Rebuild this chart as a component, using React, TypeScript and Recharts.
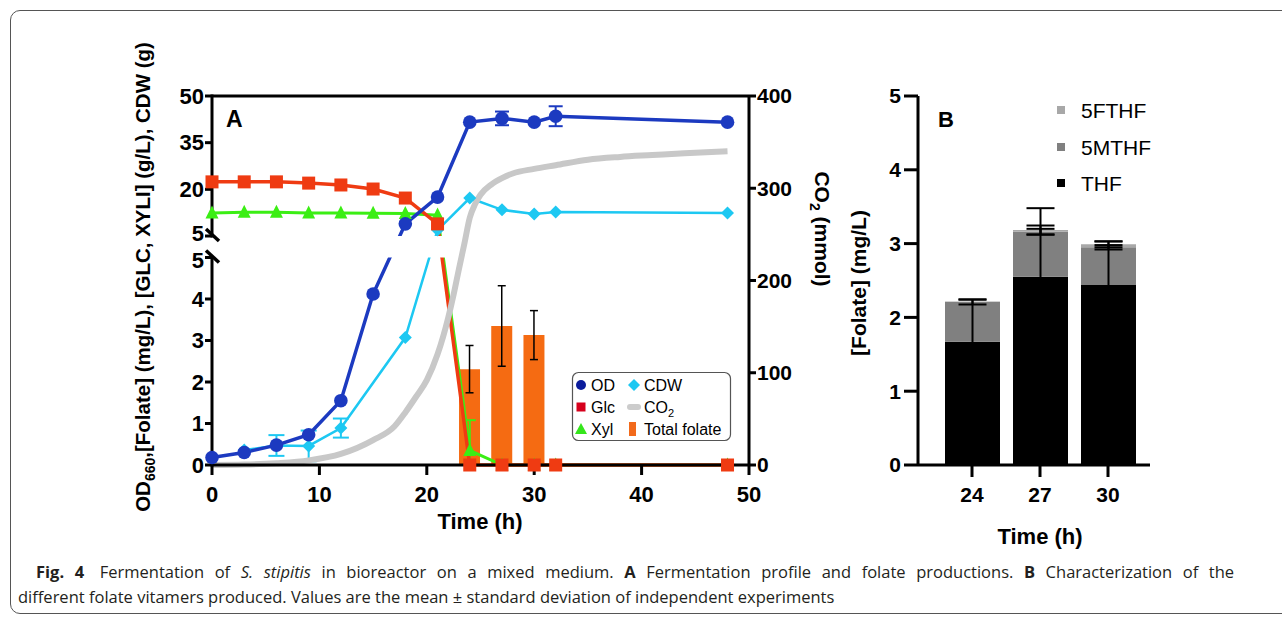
import React from 'react';
import {
  ComposedChart,
  BarChart,
  Bar,
  Line,
  XAxis,
  YAxis,
  ErrorBar,
  ReferenceLine,
  ReferenceArea,
} from 'recharts';

// ---------------- Panel A data ----------------
const times = [0, 3, 6, 9, 12, 15, 18, 21, 24, 27, 30, 32, 48];
const odValues = [0.18, 0.3, 0.48, 0.73, 1.55, 4.12, 8.9, 17.5, 41.6, 42.8, 41.6, 43.5, 41.6];
const odErrors = [null, null, null, null, null, null, null, null, null, 2.2, null, 3.2, null];
const glcValues = [22.4, 22.4, 22.4, 22.0, 21.4, 20.1, 17.2, 8.9, 0, 0, 0, 0, 0];
const xylValues = [12.4, 12.6, 12.6, 12.4, 12.4, 12.3, 12.2, 11.7, 0.35, 0, 0, 0, 0];
const xylErrors: (number[] | null)[] = [null, null, null, null, null, null, null, null, [0.35, 0.73], null, null, null, null];
const cdwValues = [null, 0.36, 0.47, 0.46, 0.89, null, 3.07, 6.9, 17.2, 13.4, 12.1, 12.7, 12.4];
const cdwErrors = [null, null, 0.25, 0.37, 0.23, null, null, null, null, null, null, null, null];
const folateValues = [null, null, null, null, null, null, null, null, 2.31, 3.35, 3.13, null, null];
const folateErrors = [null, null, null, null, null, null, null, null, 0.57, 0.97, 0.59, null, null];

const co2Times = [0, 3, 6, 9, 12, 15, 17, 18, 19, 20, 21, 22, 22.5, 23, 23.5, 24, 24.5, 25, 26, 27, 28, 30, 32, 35, 38, 41, 44, 48];
const co2Values = [0, 0.5, 2, 5, 12, 27, 42, 57, 74, 92, 120, 160, 185, 213, 240, 268, 283, 293, 304, 311, 316, 321, 325, 331, 334, 336, 338, 340];

const xTicksA = [0, 10, 20, 30, 40, 50];
const BREAK_LOW = 5;
const BREAK_HIGH = 5.000001;
const leftTicksA = [0, 1, 2, 3, 4, BREAK_LOW, BREAK_HIGH, 20, 35, 50];
const rightTicksA = [0, 100, 200, 300, 400];

// ---------------- Panel B data ----------------
const bTimes = ['24', '27', '30'];
const thfValues = [1.67, 2.55, 2.44];
const mthfValues = [0.54, 0.61, 0.51];
const fthfValues = [0.005, 0.025, 0.04];
const thfErrors = [0.57, 0.93, 0.59];
const mthfErrors = [0.035, 0.04, 0.03];
const fthfErrors = [0, 0.06, 0.04];
const bTicks = [0, 1, 2, 3, 4, 5];

// ---------------- styling ----------------
const FONT = "'Liberation Sans', Arial, Helvetica, sans-serif";
const C_OD = '#1c3ac0';
const C_GLC = '#ef3b12';
const C_XYL = '#3bee14';
const C_CDW = '#1dc8f2';
const C_CO2 = '#c8c8c8';
const C_FOL = '#f56b12';

// fraction of the left-axis height used by the lower (0-5) segment and where the upper one starts
const LOW_FRAC = 207.5 / 369;
const HIGH_FRAC = 229 / 369;

function makeBrokenScale(domain: number[] = [0, 50], range: number[] = [1, 0]): any {
  let d = domain.slice();
  let r = range.slice();
  const s: any = (v: any) => {
    const n = Number(v);
    const d0 = d[0];
    const d1 = d[d.length - 1];
    let f: number;
    if (n <= BREAK_LOW) f = ((n - d0) / (BREAK_LOW - d0)) * LOW_FRAC;
    else f = HIGH_FRAC + ((n - BREAK_HIGH) / (d1 - BREAK_HIGH)) * (1 - HIGH_FRAC);
    return r[0] + f * (r[r.length - 1] - r[0]);
  };
  s.domain = (x?: any) => {
    if (x === undefined) return d.slice();
    d = [Number(x[0]), Number(x[x.length - 1])];
    return s;
  };
  s.range = (x?: any) => {
    if (x === undefined) return r.slice();
    r = [Number(x[0]), Number(x[x.length - 1])];
    return s;
  };
  s.copy = () => makeBrokenScale(d, r);
  s.ticks = () => leftTicksA.slice();
  s.tickFormat = () => (v: any) => String(v);
  s.clamp = () => s;
  s.nice = () => s;
  s.invert = (px: number) => {
    const f = (px - r[0]) / (r[r.length - 1] - r[0]);
    if (f <= LOW_FRAC) return d[0] + (f / LOW_FRAC) * (BREAK_LOW - d[0]);
    return BREAK_HIGH + ((f - HIGH_FRAC) / (1 - HIGH_FRAC)) * (d[d.length - 1] - BREAK_HIGH);
  };
  return s;
}
const brokenScale = makeBrokenScale();

const rowsA = times.map((t, i) => ({
  t,
  od: odValues[i],
  odErr: odErrors[i],
  glc: glcValues[i],
  xyl: xylValues[i],
  xylErr: xylErrors[i],
  cdw: cdwValues[i],
  cdwErr: cdwErrors[i],
  folate: folateValues[i],
  folateErr: folateErrors[i],
}));
const co2Rows = co2Times.map((t, i) => ({ t, co2: co2Values[i] }));

const rowsB = bTimes.map((time, i) => {
  const top = thfValues[i] + mthfValues[i] + fthfValues[i];
  const thfTop = thfValues[i];
  const mthfTop = thfValues[i] + mthfValues[i];
  const rel = (segTop: number, e: number) => (e ? [top - (segTop - e), segTop + e - top] : null);
  return {
    time,
    thf: thfValues[i],
    mthf: mthfValues[i],
    fthf: fthfValues[i],
    eThf: rel(thfTop, thfErrors[i]),
    eMthf: rel(mthfTop, mthfErrors[i]),
    eFthf: rel(top, fthfErrors[i]),
  };
});

const tickFont = { fill: '#000', fontSize: 22, fontWeight: 700, fontFamily: FONT };
const axisStroke = { stroke: '#000', strokeWidth: 3 };

const LeftTick = (props: any) => {
  const { x, y, payload } = props;
  const v = payload.value;
  const isBreak = v === BREAK_LOW || v === BREAK_HIGH;
  const label = v === BREAK_HIGH ? '5' : String(v);
  const ax = x + 8;
  const shift = v === BREAK_HIGH ? -2.5 : v === BREAK_LOW ? 2.5 : 0;
  return (
    <g>
      <text x={x} y={y + shift} dy="0.355em" textAnchor="end" {...tickFont}>
        {label}
      </text>
      {isBreak && (
        <line x1={ax - 6} y1={y - 7} x2={ax + 7} y2={y + 5} stroke="#000" strokeWidth={3.5} />
      )}
    </g>
  );
};

const circleDot = (color: string, r: number) => (p: any) => {
  if (p.cy == null || p.value == null) return <g key={`c${p.index}`} />;
  return <circle key={`c${p.index}`} cx={p.cx} cy={p.cy} r={r} fill={color} />;
};
const squareDot = (color: string, s: number) => (p: any) => {
  if (p.cy == null || p.value == null) return <g key={`s${p.index}`} />;
  return <rect key={`s${p.index}`} x={p.cx - s / 2} y={p.cy - s / 2} width={s} height={s} fill={color} />;
};
const triDot = (color: string, s: number) => (p: any) => {
  if (p.cy == null || p.value == null) return <g key={`t${p.index}`} />;
  const pts = `${p.cx},${p.cy - s * 0.58} ${p.cx - s / 2},${p.cy + s * 0.42} ${p.cx + s / 2},${p.cy + s * 0.42}`;
  return <polygon key={`t${p.index}`} points={pts} fill={color} />;
};
const diamondDot = (color: string, h: number) => (p: any) => {
  if (p.cy == null || p.value == null) return <g key={`d${p.index}`} />;
  const pts = `${p.cx},${p.cy - h} ${p.cx + h},${p.cy} ${p.cx},${p.cy + h} ${p.cx - h},${p.cy}`;
  return <polygon key={`d${p.index}`} points={pts} fill={color} />;
};

function PanelA() {
  return (
    <ComposedChart
      width={800}
      height={560}
      data={rowsA}
      margin={{ top: 96, right: 11, bottom: 65, left: 152 }}
    >
      <XAxis
        dataKey="t"
        type="number"
        domain={[0, 50]}
        ticks={xTicksA}
        interval={0}
        height={30}
        tickSize={10}
        tickMargin={11}
        axisLine={axisStroke}
        tickLine={axisStroke}
        tick={tickFont}
      />
      <XAxis xAxisId="co2" dataKey="t" type="number" domain={[0, 50]} hide />
      <YAxis
        yAxisId="L"
        type="number"
        scale={brokenScale}
        domain={[0, 50]}
        ticks={leftTicksA}
        interval={0}
        width={60}
        axisLine={false}
        tickSize={7}
        tickMargin={1}
        tickLine={axisStroke}
        tick={(p: any) => <LeftTick {...p} />}
      />
      <YAxis
        yAxisId="R"
        orientation="right"
        type="number"
        domain={[0, 400]}
        ticks={rightTicksA}
        interval={0}
        width={40}
        axisLine={axisStroke}
        tickSize={7}
        tickMargin={1}
        tickLine={axisStroke}
        tick={{ ...tickFont, fontSize: 21 }}
      />
      <Bar yAxisId="L" dataKey="folate" fill={C_FOL} barSize={21} isAnimationActive={false}>
        <ErrorBar dataKey="folateErr" direction="y" width={4} strokeWidth={1.5} stroke="#000" />
      </Bar>
      <Line
        yAxisId="L"
        dataKey="cdw"
        type="linear"
        stroke={C_CDW}
        strokeWidth={2.5}
        connectNulls
        dot={diamondDot(C_CDW, 6.5)}
        isAnimationActive={false}
      >
        <ErrorBar dataKey="cdwErr" direction="y" width={8} strokeWidth={2} stroke={C_CDW} />
      </Line>
      <Line
        yAxisId="L"
        dataKey="xyl"
        type="linear"
        stroke={C_XYL}
        strokeWidth={3}
        dot={triDot(C_XYL, 13)}
        isAnimationActive={false}
      >
        <ErrorBar dataKey="xylErr" direction="y" width={6} strokeWidth={2} stroke={C_XYL} />
      </Line>
      <Line
        yAxisId="L"
        dataKey="glc"
        type="linear"
        stroke={C_GLC}
        strokeWidth={3.5}
        dot={squareDot(C_GLC, 13)}
        isAnimationActive={false}
      />
      <Line
        yAxisId="L"
        dataKey="od"
        type="linear"
        stroke={C_OD}
        strokeWidth={3.5}
        dot={circleDot(C_OD, 6.8)}
        isAnimationActive={false}
      >
        <ErrorBar dataKey="odErr" direction="y" width={7} strokeWidth={2} stroke={C_OD} />
      </Line>
      <ReferenceArea
        yAxisId="L"
        x1={1}
        x2={49}
        y1={BREAK_LOW}
        y2={BREAK_HIGH}
        fill="#ffffff"
        fillOpacity={1}
        stroke="none"
        ifOverflow="visible"
        {...({ zIndex: 450 } as any)}
      />
      <Line
        yAxisId="R"
        xAxisId="co2"
        data={co2Rows}
        dataKey="co2"
        type="monotone"
        stroke={C_CO2}
        strokeWidth={6}
        dot={false}
        activeDot={false}
        isAnimationActive={false}
        {...({ zIndex: 460 } as any)}
      />
      <ReferenceLine
        yAxisId="L"
        segment={[{ x: 0, y: 0 }, { x: 0, y: BREAK_LOW }]}
        stroke="#000"
        strokeWidth={3}
        strokeLinecap="square"
        {...({ zIndex: 470 } as any)}
      />
      <ReferenceLine
        yAxisId="L"
        segment={[{ x: 0, y: BREAK_HIGH }, { x: 0, y: 50 }]}
        stroke="#000"
        strokeWidth={3}
        strokeLinecap="square"
        {...({ zIndex: 470 } as any)}
      />
      <ReferenceLine yAxisId="L" y={50} stroke="#000" strokeWidth={3} {...({ zIndex: 470 } as any)} />
    </ComposedChart>
  );
}

function PanelB() {
  return (
    <BarChart width={330} height={560} data={rowsB} margin={{ top: 96, right: 20, bottom: 65, left: 18 }}>
      <XAxis
        dataKey="time"
        type="category"
        padding={{ left: 20, right: 8 }}
        height={30}
        tickSize={12}
        tickMargin={10}
        interval={0}
        axisLine={axisStroke}
        tickLine={axisStroke}
        tick={{ ...tickFont, fontSize: 21 }}
      />
      <YAxis
        type="number"
        domain={[0, 5]}
        ticks={bTicks}
        interval={0}
        width={60}
        tickSize={14}
        tickMargin={3}
        axisLine={axisStroke}
        tickLine={axisStroke}
        tick={{ ...tickFont, fontSize: 21 }}
      />
      <Bar dataKey="thf" stackId="s" fill="#000000" barSize={55} isAnimationActive={false} />
      <Bar dataKey="mthf" stackId="s" fill="#808080" barSize={55} isAnimationActive={false} />
      <Bar dataKey="fthf" stackId="s" fill="#a8a8a8" barSize={55} isAnimationActive={false}>
        <ErrorBar dataKey="eThf" direction="y" width={14} strokeWidth={2} stroke="#000" />
        <ErrorBar dataKey="eMthf" direction="y" width={14} strokeWidth={2} stroke="#000" />
        <ErrorBar dataKey="eFthf" direction="y" width={14} strokeWidth={2} stroke="#000" />
      </Bar>
    </BarChart>
  );
}

function Overlay() {
  const bold = { fontFamily: FONT, fontWeight: 700, fill: '#000' };
  const cap = { fontFamily: "'Open Sans', 'DejaVu Sans', sans-serif", fontSize: 16.5, fill: '#231f20' };
  return (
    <svg
      width={1282}
      height={618}
      style={{ position: 'absolute', left: 0, top: 0, pointerEvents: 'none' }}
    >
      {/* panel letters */}
      <text x={226} y={127} fontSize={23} {...bold}>A</text>
      <text x={938} y={127} fontSize={22} {...bold}>B</text>

      {/* axis titles A */}
      <text transform="translate(150,277) rotate(-90)" textAnchor="middle" fontSize={20.5} {...bold}>
        OD<tspan fontSize={14} dy={5}>660</tspan>
        <tspan dy={-5}>,[Folate] (mg/L), [GLC, XYLI] (g/L), CDW (g)</tspan>
      </text>
      <text transform="translate(815,229) rotate(90)" textAnchor="middle" fontSize={21} {...bold}>
        CO<tspan fontSize={14} dy={5}>2</tspan>
        <tspan dy={-5}> (mmol)</tspan>
      </text>
      <text x={480} y={529} textAnchor="middle" fontSize={22} {...bold}>Time (h)</text>

      {/* axis titles B */}
      <text transform="translate(866,283) rotate(-90)" textAnchor="middle" fontSize={21} {...bold}>
        [Folate] (mg/L)
      </text>
      <text x={1040} y={544} textAnchor="middle" fontSize={22} {...bold}>Time (h)</text>

      {/* legend A */}
      <g fontFamily={FONT} fontSize={16} fill="#000">
        <rect x={572.5} y={372.5} width={158} height={68} rx={6} fill="#fff" stroke="#555" strokeWidth={1.2} />
        <circle cx={581} cy={385} r={5} fill="#0b1c9c" />
        <text x={591} y={391}>OD</text>
        <polygon points="634,379 640,385 634,391 628,385" fill={C_CDW} />
        <text x={644} y={391}>CDW</text>
        <rect x={576.5} y={402.5} width={9} height={9} fill="#d6001c" />
        <text x={591} y={413}>Glc</text>
        <line x1={630} y1={407} x2={638} y2={407} stroke="#cccccc" strokeWidth={6} strokeLinecap="round" />
        <text x={644} y={413}>
          CO<tspan fontSize={11} dy={4}>2</tspan>
        </text>
        <polygon points="581,423 587,434 575,434" fill="#35e61b" />
        <text x={591} y={435}>Xyl</text>
        <rect x={629} y={422} width={7} height={14} fill="#f26a1b" />
        <text x={644} y={435}>Total folate</text>
      </g>

      {/* legend B */}
      <g fontFamily={FONT} fontSize={21} fill="#000">
        <rect x={1057} y={106} width={8} height={8} fill="#a8a8a8" />
        <text x={1081} y={118}>5FTHF</text>
        <rect x={1057} y={143} width={8} height={8} fill="#808080" />
        <text x={1081} y={155}>5MTHF</text>
        <rect x={1057} y={179} width={8} height={8} fill="#000" />
        <text x={1081} y={191}>THF</text>
      </g>

      {/* caption */}
      <text x={36} y={578} wordSpacing={6.3} {...cap}>
        <tspan fontWeight={700}>Fig. 4</tspan>
        <tspan dx={5}> Fermentation of </tspan>
        <tspan fontStyle="italic">S. stipitis</tspan>
        <tspan> in bioreactor on a mixed medium. </tspan>
        <tspan fontWeight={700}>A</tspan>
        <tspan> Fermentation profile and folate productions. </tspan>
        <tspan fontWeight={700}>B</tspan>
        <tspan> Characterization of the</tspan>
      </text>
      <text x={18} y={603} {...cap}>
        different folate vitamers produced. Values are the mean ± standard deviation of independent experiments
      </text>
    </svg>
  );
}

export default function App() {
  return (
    <div
      style={{
        position: 'absolute',
        left: 0,
        top: 0,
        width: 1282,
        height: 618,
        overflow: 'hidden',
        background: '#fff',
      }}
    >
      <div
        style={{
          position: 'absolute',
          left: 10,
          top: 10,
          width: 1300,
          height: 604,
          border: '1.5px solid #555',
          borderRadius: 10,
          boxSizing: 'border-box',
        }}
      />
      <div style={{ position: 'absolute', left: 0, top: 0 }}>
        <PanelA />
      </div>
      <div style={{ position: 'absolute', left: 840, top: 0 }}>
        <PanelB />
      </div>
      <Overlay />
    </div>
  );
}
